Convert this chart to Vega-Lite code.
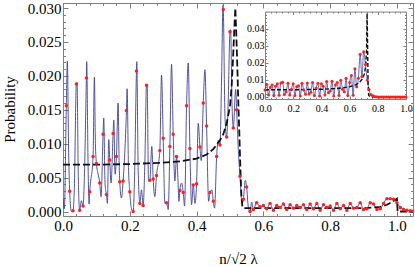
{
  "$schema": "https://vega.github.io/schema/vega-lite/v6.json",
  "width": 350,
  "height": 213,
  "autosize": "none",
  "padding": {"left": 63, "top": 3, "right": 2, "bottom": 50},
  "background": "white",
  "config": {
    "view": {"stroke": "#808080", "strokeWidth": 1},
    "font": "Liberation Serif",
    "axis": {"labelFont": "Liberation Serif", "titleFont": "Liberation Serif", "labelColor": "#000", "titleColor": "#000", "titleFontWeight": "normal", "grid": false, "domain": false, "tickColor": "#808080", "labelOverlap": false, "labelFlush": false, "labelBound": false}
  },
  "datasets": {
    "curve": [
      {"x":0,"p":0.0017},{"x":0.004,"p":0.0004},{"x":0.01,"p":0.0156},{"x":0.013,"p":0.0222},{"x":0.017,"p":0.0085},{"x":0.02,"p":0.003},{"x":0.025,"p":0},{"x":0.03,"p":0.0001},{"x":0.034,"p":0.0035},{"x":0.04,"p":0.0188},{"x":0.042,"p":0.019},{"x":0.046,"p":0.0045},{"x":0.05,"p":0.0002},{"x":0.055,"p":0.0016},{"x":0.06,"p":0.0008},{"x":0.064,"p":0.005},{"x":0.07,"p":0.0197},{"x":0.071,"p":0.0221},{"x":0.075,"p":0.007},{"x":0.078,"p":0.0011},{"x":0.08,"p":0.0029},{"x":0.09,"p":0.0081},{"x":0.094,"p":0.0198},{"x":0.097,"p":0.01},{"x":0.1,"p":0.0071},{"x":0.104,"p":0.0058},{"x":0.11,"p":0.0042},{"x":0.114,"p":0.0022},{"x":0.12,"p":0.0114},{"x":0.122,"p":0.0138},{"x":0.126,"p":0.004},{"x":0.13,"p":0.0025},{"x":0.133,"p":0.0012},{"x":0.137,"p":0.0106},{"x":0.14,"p":0.0076},{"x":0.144,"p":0.0042},{"x":0.15,"p":0.0115},{"x":0.152,"p":0.0135},{"x":0.156,"p":0.0055},{"x":0.16,"p":0.0081},{"x":0.165,"p":0.016},{"x":0.168,"p":0.0075},{"x":0.17,"p":0.0044},{"x":0.175,"p":0.002},{"x":0.18,"p":0.0045},{"x":0.19,"p":0.0149},{"x":0.192,"p":0.0181},{"x":0.196,"p":0.0065},{"x":0.2,"p":0.0029},{"x":0.205,"p":0.0004},{"x":0.21,"p":0},{"x":0.214,"p":0.0045},{"x":0.22,"p":0.0207},{"x":0.221,"p":0.0221},{"x":0.225,"p":0.0065},{"x":0.23,"p":0.0012},{"x":0.235,"p":0.0032},{"x":0.24,"p":0.0009},{"x":0.245,"p":0.007},{"x":0.25,"p":0.0186},{"x":0.252,"p":0.0187},{"x":0.256,"p":0.0045},{"x":0.26,"p":0.0046},{"x":0.266,"p":0.0096},{"x":0.27,"p":0.0048},{"x":0.275,"p":0.0022},{"x":0.28,"p":0.0053},{"x":0.29,"p":0.009},{"x":0.295,"p":0.0201},{"x":0.3,"p":0.0108},{"x":0.305,"p":0.0012},{"x":0.31,"p":0.0013},{"x":0.315,"p":0.0003},{"x":0.32,"p":0.0096},{"x":0.325,"p":0.0217},{"x":0.33,"p":0.0114},{"x":0.335,"p":0.0045},{"x":0.34,"p":0.0081},{"x":0.344,"p":0.005},{"x":0.347,"p":0.0015},{"x":0.35,"p":0.0031},{"x":0.355,"p":0.0042},{"x":0.36,"p":0.0028},{"x":0.364,"p":0.0008},{"x":0.37,"p":0.0156},{"x":0.375,"p":0.0219},{"x":0.38,"p":0.0093},{"x":0.385,"p":0.001},{"x":0.39,"p":0.0039},{"x":0.395,"p":0.0012},{"x":0.4,"p":0.0041},{"x":0.405,"p":0.013},{"x":0.41,"p":0.0095},{"x":0.414,"p":0.0075},{"x":0.42,"p":0.016},{"x":0.425,"p":0.0209},{"x":0.43,"p":0.0126},{"x":0.436,"p":0.0015},{"x":0.44,"p":0.0028},{"x":0.446,"p":0.0032},{"x":0.45,"p":0.0015},{"x":0.454,"p":0.0005},{"x":0.46,"p":0.0081},{"x":0.465,"p":0.0105},{"x":0.47,"p":0.0098},{"x":0.475,"p":0.02},{"x":0.479,"p":0.0304},{"x":0.48,"p":0.0298},{"x":0.485,"p":0.014},{"x":0.49,"p":0.011},{"x":0.494,"p":0.015},{"x":0.5,"p":0.0265},{"x":0.502,"p":0.0268},{"x":0.506,"p":0.016},{"x":0.51,"p":0.0123},{"x":0.517,"p":0.018},{"x":0.52,"p":0.015},{"x":0.525,"p":0.009},{"x":0.53,"p":0.0052},{"x":0.536,"p":0.0012},{"x":0.54,"p":0.0018},{"x":0.546,"p":0.0046},{"x":0.55,"p":0.0036},{"x":0.555,"p":0.0006},{"x":0.56,"p":0},{"x":0.565,"p":0.0014},{"x":0.57,"p":0.0003},
      {"x":0.58,"p":0.0013},{"x":0.59,"p":0.0007},{"x":0.6,"p":0.0009},{"x":0.61,"p":0.0004},{"x":0.62,"p":0.0012},{"x":0.63,"p":0.0002},{"x":0.64,"p":0.0009},{"x":0.65,"p":0.0006},{"x":0.66,"p":0.0011},{"x":0.67,"p":0.0003},{"x":0.68,"p":0.001},{"x":0.69,"p":0.0005},{"x":0.7,"p":0.0009},{"x":0.71,"p":0.0006},{"x":0.72,"p":0.001},{"x":0.73,"p":0.0003},{"x":0.74,"p":0.0011},{"x":0.75,"p":0.0004},{"x":0.76,"p":0.0012},{"x":0.77,"p":0.0002},{"x":0.78,"p":0.001},{"x":0.79,"p":0.0006},{"x":0.8,"p":0.0008},{"x":0.81,"p":0.0002},{"x":0.82,"p":0.0012},{"x":0.83,"p":0.0004},{"x":0.84,"p":0.0009},{"x":0.85,"p":0.0002},{"x":0.86,"p":0.0012},{"x":0.87,"p":0.0005},{"x":0.88,"p":0.0006},{"x":0.89,"p":0.0013},{"x":0.9,"p":0.0003},{"x":0.91,"p":0.0004},{"x":0.92,"p":0.0013},{"x":0.93,"p":0.0011},{"x":0.94,"p":0.0003},{"x":0.95,"p":0.0004},{"x":0.96,"p":0.0012},{"x":0.97,"p":0.0019},{"x":0.98,"p":0.0019},{"x":0.99,"p":0.0018},{"x":1.0,"p":0.0013},{"x":1.01,"p":0.0006},{"x":1.02,"p":0.0003},{"x":1.03,"p":0.0002},{"x":1.04,"p":0.0001},{"x":1.05,"p":0.0001}
    ],
    "samples": [
      {"x":0,"p":0.0017},{"x":0.01,"p":0.0156},{"x":0.02,"p":0.003},{"x":0.03,"p":0.0001},{"x":0.04,"p":0.0188},{"x":0.05,"p":0.0002},{"x":0.06,"p":0.0008},{"x":0.07,"p":0.0197},{"x":0.08,"p":0.0029},{"x":0.09,"p":0.0081},{"x":0.1,"p":0.0071},{"x":0.11,"p":0.0042},{"x":0.12,"p":0.0114},{"x":0.13,"p":0.0025},{"x":0.14,"p":0.0076},{"x":0.15,"p":0.0115},{"x":0.16,"p":0.0081},{"x":0.17,"p":0.0044},{"x":0.18,"p":0.0045},{"x":0.19,"p":0.0149},{"x":0.2,"p":0.0029},{"x":0.21,"p":0},{"x":0.22,"p":0.0207},{"x":0.23,"p":0.0012},{"x":0.24,"p":0.0009},{"x":0.25,"p":0.0186},{"x":0.26,"p":0.0046},{"x":0.27,"p":0.0048},{"x":0.28,"p":0.0053},{"x":0.29,"p":0.009},{"x":0.3,"p":0.0108},{"x":0.31,"p":0.0013},{"x":0.32,"p":0.0096},{"x":0.33,"p":0.0114},{"x":0.34,"p":0.0081},{"x":0.35,"p":0.0031},{"x":0.36,"p":0.0028},{"x":0.37,"p":0.0156},{"x":0.38,"p":0.0093},{"x":0.39,"p":0.0039},{"x":0.4,"p":0.0041},{"x":0.41,"p":0.0095},{"x":0.42,"p":0.016},{"x":0.43,"p":0.0126},{"x":0.44,"p":0.0028},{"x":0.45,"p":0.0015},{"x":0.46,"p":0.0081},{"x":0.47,"p":0.0098},{"x":0.48,"p":0.0298},{"x":0.49,"p":0.011},{"x":0.5,"p":0.0265},{"x":0.51,"p":0.0123},{"x":0.52,"p":0.015},{"x":0.53,"p":0.0052},{"x":0.54,"p":0.0018},{"x":0.55,"p":0.0036},{"x":0.56,"p":0},{"x":0.57,"p":0.0003},
      {"x":0.58,"p":0.0013},{"x":0.59,"p":0.0007},{"x":0.6,"p":0.0009},{"x":0.61,"p":0.0004},{"x":0.62,"p":0.0012},{"x":0.63,"p":0.0002},{"x":0.64,"p":0.0009},{"x":0.65,"p":0.0006},{"x":0.66,"p":0.0011},{"x":0.67,"p":0.0003},{"x":0.68,"p":0.001},{"x":0.69,"p":0.0005},{"x":0.7,"p":0.0009},{"x":0.71,"p":0.0006},{"x":0.72,"p":0.001},{"x":0.73,"p":0.0003},{"x":0.74,"p":0.0011},{"x":0.75,"p":0.0004},{"x":0.76,"p":0.0012},{"x":0.77,"p":0.0002},{"x":0.78,"p":0.001},{"x":0.79,"p":0.0006},{"x":0.8,"p":0.0008},{"x":0.81,"p":0.0002},{"x":0.82,"p":0.0012},{"x":0.83,"p":0.0004},{"x":0.84,"p":0.0009},{"x":0.85,"p":0.0002},{"x":0.86,"p":0.0012},{"x":0.87,"p":0.0005},{"x":0.88,"p":0.0006},{"x":0.89,"p":0.0013},{"x":0.9,"p":0.0003},{"x":0.91,"p":0.0004},{"x":0.92,"p":0.0013},{"x":0.93,"p":0.0011},{"x":0.94,"p":0.0003},{"x":0.95,"p":0.0004},{"x":0.96,"p":0.0012},{"x":0.97,"p":0.0019},{"x":0.98,"p":0.0019},{"x":0.99,"p":0.0018},{"x":1.0,"p":0.0013},{"x":1.01,"p":0.0006},{"x":1.02,"p":0.0003},{"x":1.03,"p":0.0002},{"x":1.04,"p":0.0001},{"x":1.05,"p":0.0001}
    ],
    "classical": [
      {"x":0,"p":0.0069},{"x":0.1,"p":0.0069},{"x":0.2,"p":0.007},{"x":0.25,"p":0.0071},{"x":0.3,"p":0.0072},{"x":0.35,"p":0.0074},{"x":0.4,"p":0.0078},{"x":0.43,"p":0.0084},{"x":0.45,"p":0.0092},{"x":0.47,"p":0.0105},{"x":0.48,"p":0.0114},{"x":0.49,"p":0.013},{"x":0.5,"p":0.0155},{"x":0.505,"p":0.0185},{"x":0.51,"p":0.0235},{"x":0.513,"p":0.027},{"x":0.516,"p":0.03},{"x":0.519,"p":0.026},{"x":0.522,"p":0.0213},{"x":0.525,"p":0.016},{"x":0.528,"p":0.0116},{"x":0.531,"p":0.0065},{"x":0.534,"p":0.0025},{"x":0.537,"p":0.0008},{"x":0.54,"p":0.0005},{"x":0.7,"p":0.0005},{"x":0.9,"p":0.0005},{"x":0.93,"p":0.0006},{"x":0.95,"p":0.0007},{"x":0.97,"p":0.001},{"x":0.985,"p":0.0014},{"x":1.0,"p":0.0019},{"x":1.002,"p":0},{"x":1.05,"p":0}
    ],
    "insetSamples": [
      {"x":0,"p":0.004},{"x":0.0125,"p":0.0075},{"x":0.025,"p":0.0012},{"x":0.0375,"p":0.0055},{"x":0.05,"p":0.007},{"x":0.0625,"p":0.0008},{"x":0.075,"p":0.0062},{"x":0.0875,"p":0.0078},{"x":0.1,"p":0.001},{"x":0.1125,"p":0.0082},{"x":0.125,"p":0.0086},{"x":0.1375,"p":0.0015},{"x":0.15,"p":0.003},{"x":0.1625,"p":0.008},{"x":0.175,"p":0.0012},{"x":0.1875,"p":0.0045},{"x":0.2,"p":0.0078},{"x":0.2125,"p":0.0008},{"x":0.225,"p":0.006},{"x":0.2375,"p":0.0065},{"x":0.25,"p":0.0006},{"x":0.2625,"p":0.008},{"x":0.275,"p":0.004},{"x":0.2875,"p":0.0016},{"x":0.3,"p":0.0082},{"x":0.3125,"p":0.0018},{"x":0.325,"p":0.0028},{"x":0.3375,"p":0.0085},{"x":0.35,"p":0.0008},{"x":0.3625,"p":0.0052},{"x":0.375,"p":0.008},{"x":0.3875,"p":0.0005},{"x":0.4,"p":0.0078},{"x":0.4125,"p":0.0062},{"x":0.425,"p":0.0012},{"x":0.4375,"p":0.009},{"x":0.45,"p":0.0025},{"x":0.4625,"p":0.0035},{"x":0.475,"p":0.0092},{"x":0.4875,"p":0.0005},{"x":0.5,"p":0.007},{"x":0.5125,"p":0.0085},{"x":0.525,"p":0.0008},{"x":0.5375,"p":0.0098},{"x":0.55,"p":0.0045},{"x":0.5625,"p":0.003},{"x":0.575,"p":0.011},{"x":0.5875,"p":0.0008},{"x":0.6,"p":0.0085},{"x":0.6125,"p":0.0125},{"x":0.625,"p":0.001},{"x":0.6375,"p":0.0165},{"x":0.65,"p":0.006},{"x":0.6625,"p":0.011},{"x":0.675,"p":0.025},{"x":0.6875,"p":0.012},{"x":0.7,"p":0.0265},{"x":0.7125,"p":0.019},{"x":0.725,"p":0.01},{"x":0.7375,"p":0.0045},{"x":0.75,"p":0.0015},{"x":0.7625,"p":0.0008},{"x":0.775,"p":0.0003},{"x":0.7875,"p":0.0001},{"x":0.8,"p":0},{"x":0.8125,"p":0},{"x":0.825,"p":0},{"x":0.8375,"p":0},{"x":0.85,"p":0},{"x":0.8625,"p":0},{"x":0.875,"p":0},{"x":0.8875,"p":0},{"x":0.9,"p":0},{"x":0.9125,"p":0},{"x":0.925,"p":0},{"x":0.9375,"p":0},{"x":0.95,"p":0},{"x":0.9625,"p":0},{"x":0.975,"p":0},{"x":0.9875,"p":0},{"x":1.0,"p":0}
    ],
    "insetClassical": [
      {"x":0,"p":0.0042},{"x":0.2,"p":0.0042},{"x":0.4,"p":0.0045},{"x":0.5,"p":0.0049},{"x":0.55,"p":0.0053},{"x":0.6,"p":0.006},{"x":0.64,"p":0.007},{"x":0.67,"p":0.0085},{"x":0.69,"p":0.0105},{"x":0.705,"p":0.0135},{"x":0.715,"p":0.019},{"x":0.72,"p":0.027},{"x":0.724,"p":0.049},{"x":0.728,"p":0.028},{"x":0.731,"p":0.008},{"x":0.735,"p":0.001},{"x":0.745,"p":0.0002},{"x":0.76,"p":0},{"x":1.0,"p":0}
    ]
  },
  "layer": [
    {
      "layer": [
        {
          "data": {"name": "curve"},
          "mark": {"type": "line", "color": "#3f3f9c", "strokeWidth": 0.9, "interpolate": "monotone", "clip": true},
          "encoding": {
            "x": {"field": "x", "type": "quantitative", "scale": {"domain": [0, 1.048], "nice": false, "zero": false},
              "axis": {"orient": "bottom", "values": [0,0.04,0.08,0.12,0.16,0.2,0.24,0.28,0.32,0.36,0.4,0.44,0.48,0.52,0.56,0.6,0.64,0.68,0.72,0.76,0.8,0.84,0.88,0.92,0.96,1.0,1.04],
                "tickSize": {"condition": {"test": "abs(datum.value*5 - round(datum.value*5)) < 0.001", "value": -5}, "value": -2.5},
                "labelExpr": "abs(datum.value*5 - round(datum.value*5)) < 0.001 ? format(datum.value, '.1f') : ''",
                "labelFontSize": 15, "labelPadding": 7, "title": "n/√2 λ", "titleFontSize": 15, "titleY": 47, "titleBaseline": "alphabetic"}},
            "y": {"field": "p", "type": "quantitative", "scale": {"domain": [-0.00066, 0.03074], "nice": false, "zero": false},
              "axis": {"orient": "left", "values": [0,0.001,0.002,0.003,0.004,0.005,0.006,0.007,0.008,0.009,0.01,0.011,0.012,0.013,0.014,0.015,0.016,0.017,0.018,0.019,0.02,0.021,0.022,0.023,0.024,0.025,0.026,0.027,0.028,0.029,0.03],
                "tickSize": {"condition": {"test": "abs(datum.value*200 - round(datum.value*200)) < 0.001", "value": -5}, "value": -2.5},
                "labelExpr": "abs(datum.value*200 - round(datum.value*200)) < 0.001 ? format(datum.value, '.3f') : ''",
                "labelFontSize": 15, "labelPadding": 7, "title": "Probability", "titleFontSize": 15, "titleX": -49, "titleY": 106, "titleBaseline": "alphabetic", "titleAngle": -90}}
          }
        },
        {
          "data": {"name": "classical"},
          "mark": {"type": "line", "color": "#111111", "strokeWidth": 1.8, "strokeDash": [7, 3], "clip": true},
          "encoding": {
            "x": {"field": "x", "type": "quantitative", "axis": null},
            "y": {"field": "p", "type": "quantitative", "axis": null}
          }
        },
        {
          "data": {"name": "samples"},
          "mark": {"type": "circle", "color": "#ff1f1f", "size": 12, "opacity": 1, "clip": true},
          "encoding": {
            "x": {"field": "x", "type": "quantitative",
              "axis": {"orient": "top", "values": [0,0.04,0.08,0.12,0.16,0.2,0.24,0.28,0.32,0.36,0.4,0.44,0.48,0.52,0.56,0.6,0.64,0.68,0.72,0.76,0.8,0.84,0.88,0.92,0.96,1.0,1.04],
                "tickSize": {"condition": {"test": "abs(datum.value*5 - round(datum.value*5)) < 0.001", "value": -5}, "value": -2.5},
                "labels": false, "title": null}},
            "y": {"field": "p", "type": "quantitative",
              "axis": {"orient": "right", "values": [0,0.001,0.002,0.003,0.004,0.005,0.006,0.007,0.008,0.009,0.01,0.011,0.012,0.013,0.014,0.015,0.016,0.017,0.018,0.019,0.02,0.021,0.022,0.023,0.024,0.025,0.026,0.027,0.028,0.029,0.03],
                "tickSize": {"condition": {"test": "abs(datum.value*200 - round(datum.value*200)) < 0.001", "value": -5}, "value": -2.5},
                "labels": false, "title": null}}
          }
        }
      ],
      "resolve": {"axis": {"x": "independent", "y": "independent"}}
    },
    {
      "layer": [
        {
          "data": {"name": "insetSamples"},
          "mark": {"type": "line", "color": "#3f3f9c", "strokeWidth": 0.8, "interpolate": "monotone"},
          "encoding": {
            "x": {"field": "x", "type": "quantitative", "scale": {"domain": [0, 1], "range": [202, 343], "nice": false, "zero": false},
              "axis": {"orient": "bottom", "offset": -117, "domain": true, "domainColor": "#808080", "values": [0,0.04,0.08,0.12,0.16,0.2,0.24,0.28,0.32,0.36,0.4,0.44,0.48,0.52,0.56,0.6,0.64,0.68,0.72,0.76,0.8,0.84,0.88,0.92,0.96,1.0],
                "tickSize": {"condition": {"test": "abs(datum.value*5 - round(datum.value*5)) < 0.001", "value": -3}, "value": -1.5},
                "labelExpr": "abs(datum.value*5 - round(datum.value*5)) < 0.001 ? format(datum.value, '.1f') : ''",
                "labelFontSize": 10, "labelPadding": 7, "title": null}},
            "y": {"field": "p", "type": "quantitative", "scale": {"domain": [-0.0012, 0.05], "range": [96, 8.6], "nice": false, "zero": false},
              "axis": {"orient": "left", "offset": -202, "domain": true, "domainColor": "#808080", "values": [0,0.002,0.004,0.006,0.008,0.01,0.012,0.014,0.016,0.018,0.02,0.022,0.024,0.026,0.028,0.03,0.032,0.034,0.036,0.038,0.04,0.042,0.044,0.046,0.048],
                "tickSize": {"condition": {"test": "abs(datum.value*100 - round(datum.value*100)) < 0.001", "value": -3}, "value": -1.5},
                "labelExpr": "abs(datum.value*100 - round(datum.value*100)) < 0.001 ? format(datum.value, '.2f') : ''",
                "labelFontSize": 10, "labelPadding": 4, "title": null}}
          }
        },
        {
          "data": {"name": "insetClassical"},
          "mark": {"type": "line", "color": "#111111", "strokeWidth": 1.4, "strokeDash": [4, 2]},
          "encoding": {
            "x": {"field": "x", "type": "quantitative", "axis": null},
            "y": {"field": "p", "type": "quantitative", "axis": null}
          }
        },
        {
          "data": {"name": "insetSamples"},
          "mark": {"type": "circle", "color": "#ff1f1f", "size": 9, "opacity": 1},
          "encoding": {
            "x": {"field": "x", "type": "quantitative",
              "axis": {"orient": "top", "offset": -8.6, "domain": true, "domainColor": "#808080", "values": [0,0.04,0.08,0.12,0.16,0.2,0.24,0.28,0.32,0.36,0.4,0.44,0.48,0.52,0.56,0.6,0.64,0.68,0.72,0.76,0.8,0.84,0.88,0.92,0.96,1.0],
                "tickSize": {"condition": {"test": "abs(datum.value*5 - round(datum.value*5)) < 0.001", "value": -3}, "value": -1.5},
                "labels": false, "title": null}},
            "y": {"field": "p", "type": "quantitative",
              "axis": {"orient": "right", "offset": -7, "domain": true, "domainColor": "#808080", "values": [0,0.002,0.004,0.006,0.008,0.01,0.012,0.014,0.016,0.018,0.02,0.022,0.024,0.026,0.028,0.03,0.032,0.034,0.036,0.038,0.04,0.042,0.044,0.046,0.048],
                "tickSize": {"condition": {"test": "abs(datum.value*100 - round(datum.value*100)) < 0.001", "value": -3}, "value": -1.5},
                "labels": false, "title": null}}
          }
        }
      ],
      "resolve": {"axis": {"x": "independent", "y": "independent"}}
    }
  ],
  "resolve": {"scale": {"x": "independent", "y": "independent"}}
}
